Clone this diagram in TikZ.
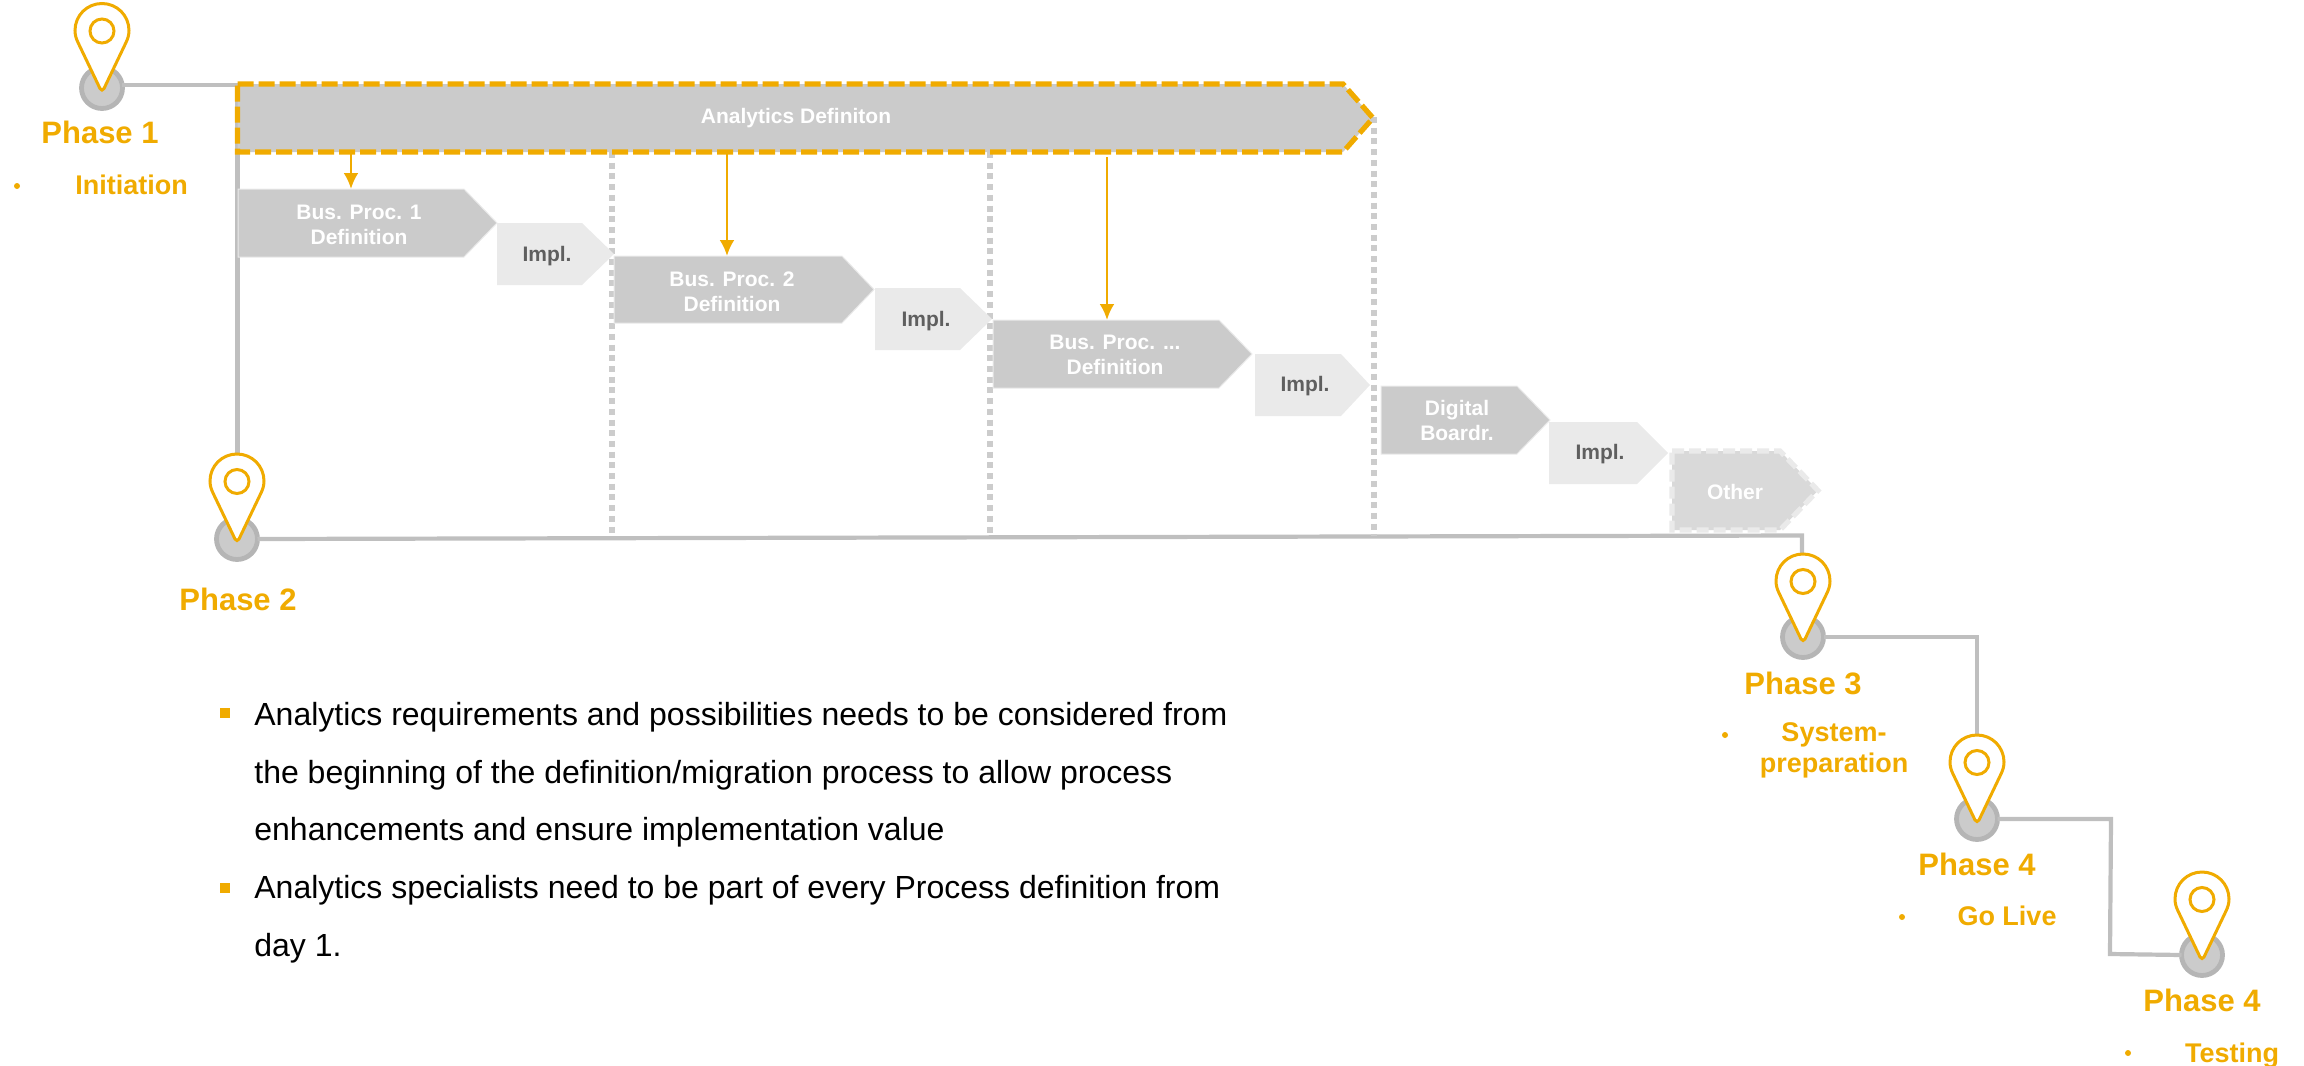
\documentclass[tikz,border=0pt]{standalone}
\usepackage{fontspec}
\setmainfont{Liberation Sans}
\usetikzlibrary{arrows.meta}
\definecolor{org}{HTML}{F0AB00}
\definecolor{linegray}{HTML}{BFBFBF}
\definecolor{markgray}{HTML}{B5B5B5}
\definecolor{dotgray}{HTML}{CCCCCC}
\definecolor{boxgray}{HTML}{CBCBCB}
\definecolor{lightbox}{HTML}{EAEAEA}
\definecolor{otherbox}{HTML}{D9D9D9}
\definecolor{implt}{HTML}{5F5F5F}
\tikzset{
  x=0.5pt,y=-0.5pt,
  conn/.style={draw=linegray,line width=2.1pt},
  dotconn/.style={draw=dotgray,line width=3pt,dash pattern=on 3pt off 2.35pt},
  arr/.style={draw=org,line width=1.4pt,-{Latex[length=8pt,width=7.5pt,color=org]}},
  anchorbox/.style={rectangle,inner sep=0pt,outer sep=0pt,minimum width=#1},
  ptnode/.style={circle,inner sep=0pt,outer sep=0pt,minimum size=20.5pt,fill=boxgray,draw=markgray,line width=2.4pt},
  defbox/.style={fill=boxgray,draw=lightbox,line width=0.5pt},
  implbox/.style={fill=lightbox},
  barbox/.style={fill=boxgray,draw=org,line width=2.6pt,dash pattern=on 8pt off 2.5pt},
  otherstyle/.style={fill=otherbox,draw=lightbox,line width=2.6pt,dash pattern=on 6pt off 2.5pt},
  whitet/.style={inner sep=0pt,text=white,font=\fontsize{10.5pt}{12.5pt}\selectfont\bfseries,align=center},
  implt/.style={inner sep=0pt,text=implt,font=\fontsize{10.5pt}{12.5pt}\selectfont\bfseries},
  phaset/.style={inner sep=0pt,anchor=base,text=org,font=\fontsize{15.5pt}{18pt}\selectfont\bfseries},
  subt/.style={inner sep=0pt,anchor=base,text=org,align=center,font=\fontsize{13.5pt}{15.5pt}\selectfont\bfseries},
  rdot/.style={circle,fill=org,inner sep=0pt,minimum size=3pt},
  sqdot/.style={rectangle,fill=org,inner sep=0pt,minimum size=5pt},
  bodyt/.style={inner sep=0pt,anchor=north west,align=left,text=black,font=\fontsize{16pt}{28.8pt}\selectfont},
  pin/.pic={
    \draw[fill=white,draw=org,line width=1.5pt]
      (-2,85) -- (-24,39) .. controls (-26,35) and (-27,31) .. (-27,27)
      .. controls (-27,12) and (-15,0) .. (0,0)
      .. controls (15,0) and (27,12) .. (27,27)
      .. controls (27,31) and (26,35) .. (24,39)
      -- (2,85) .. controls (1,87) and (-1,87) .. (-2,85) -- cycle;
    \draw[draw=org,line width=1.5pt] (0,27.5) circle [radius=12];
  }
}
% style, name, left, top, shoulder, tip, bottom
\newcommand{\chevbox}[7]{%
  \path[#1] (#3,#4) -- (#5,#4) -- (#6,{(#4+#7)/2}) -- (#5,#7) -- (#3,#7) -- cycle;
  \node[anchorbox={(#6-#3)*0.5pt},minimum height={(#7-#4)*0.5pt}] (#2) at ({(#3+#6)/2},{(#4+#7)/2}) {};
}
\begin{document}
\begin{tikzpicture}
\useasboundingbox (0,0) rectangle (2304,1066);

% point markers
\node[ptnode] (p1) at (102,88) {};
\node[ptnode] (p2) at (237,539) {};
\node[ptnode] (p3) at (1803,637) {};
\node[ptnode] (p4) at (1977,819) {};
\node[ptnode] (p5) at (2202,955) {};
\coordinate (pt2) at (237.5,456);
\coordinate (pt3) at (1802,556);
\coordinate (pt4) at (1977,737);
\coordinate (c23) at (1802,535.5);
\coordinate (c45a) at (2111,819);
\coordinate (c45b) at (2110,954);

% phase connectors
\draw[conn] (p1.8) -| (pt2);
\draw[conn] (p2.east) -- (c23) -- (pt3);
\draw[conn] (p3.east) -| (pt4);
\draw[conn] (p4.east) -- (c45a) -- (c45b) -- (p5.west);

% dotted separators
\coordinate (d1a) at (612,152); \coordinate (d1b) at (612,537);
\coordinate (d2a) at (990,152); \coordinate (d2b) at (990,536);
\coordinate (d3a) at (1373.5,117); \coordinate (d3b) at (1373.5,536);
\draw[dotconn] (d1a) -- (d1b);
\draw[dotconn] (d2a) -- (d2b);
\draw[dotconn] (d3a) -- (d3b);

% analytics bar
\chevbox{barbox}{bar}{237.5}{84}{1343}{1373}{152}
\node[whitet] (bart) at (796,118) {Analytics Definiton};

% process boxes
\chevbox{defbox}{bp1}{238}{189}{464}{497}{257}
\node[whitet] (bp1t) at (359,224.5) {Bus. Proc. 1\\Definition};
\chevbox{implbox}{im1}{497}{223}{582}{614}{285}
\node[implt] (im1t) at (547,256) {Impl.};

\chevbox{defbox}{bp2}{614}{256}{842}{874}{323}
\node[whitet] (bp2t) at (732,291.5) {Bus. Proc. 2\\Definition};
\chevbox{implbox}{im2}{875}{288}{960}{992}{350}
\node[implt] (im2t) at (926,321) {Impl.};

\chevbox{defbox}{bp3}{993}{320}{1219}{1252}{388}
\node[whitet] (bp3t) at (1115,355) {Bus. Proc. ...\\Definition};
\chevbox{implbox}{im3}{1255}{354}{1341}{1370}{416}
\node[implt] (im3t) at (1305,386.5) {Impl.};

\chevbox{defbox}{dg}{1381}{386}{1517}{1550}{454}
\node[whitet] (dgt) at (1457,420.5) {Digital\\Boardr.};
\chevbox{implbox}{im4}{1549}{422}{1637}{1668}{484}
\node[implt] (im4t) at (1600,454) {Impl.};

\chevbox{otherstyle}{ot}{1672}{451}{1780}{1818}{530}
\node[whitet] (ott) at (1735,492) {Other};

% arrows from bar to boxes
\coordinate (a1) at (351,152);
\coordinate (a2) at (727,152);
\coordinate (a3) at (1107,157);
\draw[arr] (a1) -- (a1 |- bp1.north);
\draw[arr] (a2) -- (a2 |- bp2.north);
\draw[arr] (a3) -- (a3 |- bp3.north);

% pins
\pic at (102,3.5) {pin};
\pic at (237,454) {pin};
\pic at (1803,554) {pin};
\pic at (1977,735) {pin};
\pic at (2202,872) {pin};

% phase labels
\node[phaset] (l1) at (100,143) {Phase 1};
\node[subt] (s1) at (131.5,194) {Initiation};
\node[rdot] (b1) at (17,186) {};
\node[phaset] (l2) at (238,610) {Phase 2};
\node[phaset] (l3) at (1803,694) {Phase 3};
\node[rdot] (b3) at (1725,735) {};
\node[subt,anchor=north] (s3) at (1834,722) {System-\\preparation};
\node[phaset] (l4) at (1977,875) {Phase 4};
\node[rdot] (b4) at (1902,917) {};
\node[subt] (s4) at (2007,925) {Go Live};
\node[phaset] (l5) at (2202,1011) {Phase 4};
\node[rdot] (b5) at (2128,1053) {};
\node[subt] (s5) at (2232,1062) {Testing};

% body text
\node[sqdot] (q1) at (225,713) {};
\node[bodyt] (t1) at (254,702) {Analytics requirements and possibilities needs to be considered from\\the beginning of the definition/migration process to allow process\\enhancements and ensure implementation value};
\node[sqdot] (q2) at (225,888) {};
\node[bodyt] (t2) at (254,875) {Analytics specialists need to be part of every Process definition from\\day 1.};
\end{tikzpicture}
\end{document}
